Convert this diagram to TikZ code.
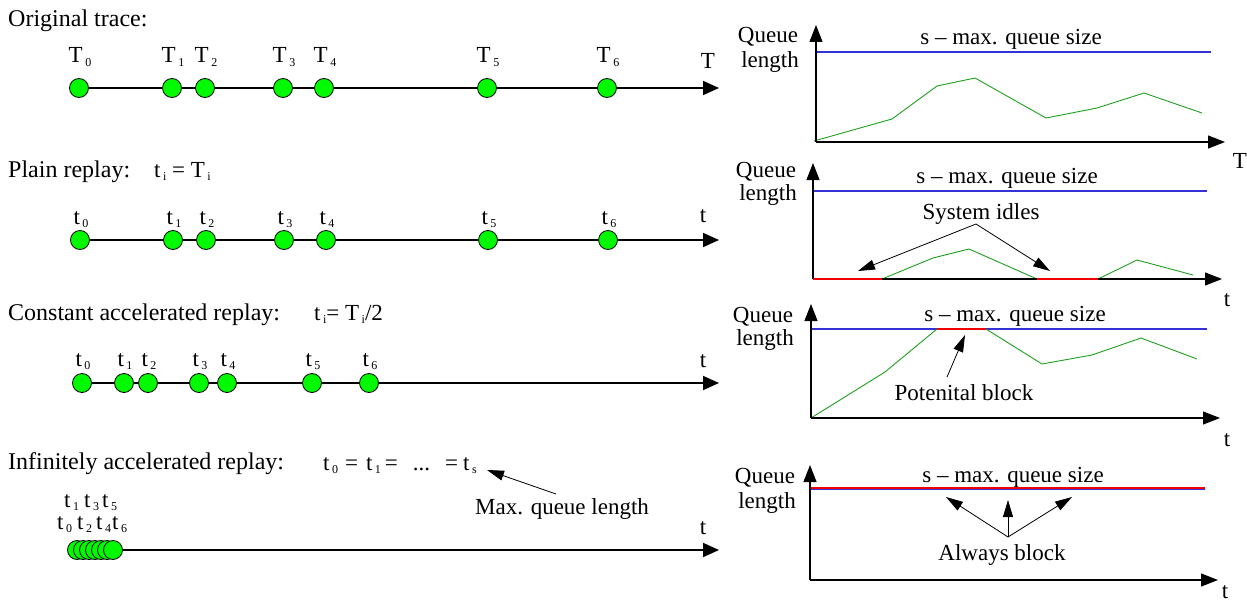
\documentclass[tikz,border=0pt]{standalone}
\usepackage{fontspec}
\setmainfont{Liberation Serif}
\usetikzlibrary{arrows.meta,backgrounds}

\definecolor{dotgreen}{RGB}{0,250,0}
\definecolor{curvegreen}{RGB}{30,160,30}
\definecolor{limitblue}{RGB}{50,50,215}
\definecolor{idlered}{RGB}{240,0,0}

% small lowered index as used in the event labels
\newcommand\lo[1]{\kern2.5pt\raisebox{-3.5pt}{\fontsize{12}{12}\selectfont #1}}

\begin{document}
\begin{tikzpicture}[x=1pt,y=-1pt,
  txt/.style={font=\fontsize{23}{24}\selectfont, inner sep=0pt, anchor=base},
  txtw/.style={txt, anchor=base west},
  head/.style={txtw, font=\fontsize{24}{25}\selectfont},
  ev/.style={circle, draw=black, line width=0.8pt, fill=dotgreen, minimum size=19pt, inner sep=0pt},
  timeline/.style={line width=1.8pt, -{Triangle[length=16pt,width=14pt]}},
  axis/.style={line width=1.1pt, -{Triangle[length=17pt,width=13pt]}},
  limit/.style={limitblue, line width=1.3pt},
  curve/.style={curvegreen, line width=0.9pt},
  block/.style={idlered, line width=2.8pt},
  pointer/.style={line width=0.8pt, -{Triangle[length=17pt,width=10pt]}},
]
\useasboundingbox (0,0) rectangle (1247,602);

% ---------------- left: event time lines ----------------
% original trace
\node[head] (h1) at (8,27) {Original trace:};
\foreach \x [count=\i from 0] in {79,172,205,283,324,487,607} {
  \node[ev] (a\i) at (\x,88) {};
  \node[txt] (al\i) at (\x+1,63) {T\lo{\i}};
}
\coordinate (aend) at (719,88);
\node[txt] (aT) at (708,69) {T};

% plain replay
\node[head] (h2) at (8,177) {Plain replay:};
\node[txtw] (e2) at (154,177) {t\lo{i} = T\lo{i}};
\foreach \x [count=\i from 0] in {80,173,206,284,326,488,608} {
  \node[ev] (b\i) at (\x,240) {};
  \node[txt] (bl\i) at (\x+1,224) {t\lo{\i}};
}
\coordinate (bend) at (719,240);
\node[txt] (bt) at (703,222) {t};

% constant accelerated replay
\node[head] (h3) at (8,320) {Constant accelerated replay:};
\node[txtw] (e3) at (314,320) {t\lo{i}= T\lo{i}/2};
\foreach \x [count=\i from 0] in {82,124,148,199,227,312,369} {
  \node[ev] (c\i) at (\x,383) {};
  \node[txt] (cl\i) at (\x+1,366) {t\lo{\i}};
}
\coordinate (cend) at (719,383);
\node[txt] (ct) at (703,367) {t};

% infinitely accelerated replay
\node[head] (h4) at (8,469) {Infinitely accelerated replay:};
\node[txtw] (e4) at (323,470) {t\lo{0}\hspace{7pt}=\hspace{8pt}t\lo{1}\hspace{4pt}=\hspace{15pt}...\hspace{15pt}=\hspace{5pt}t\lo{s}};
\node[txtw] (mq) at (475,514) {Max. queue length};
\foreach \i in {0,...,6} {
  \node[ev] (d\i) at ({77+6*\i},550) {};
}
\begin{scope}[every node/.append style={font=\fontsize{22}{22}\selectfont}]
\node[txtw] (dl1) at (64,507) {t\lo{1}};
\node[txtw] (dl3) at (84,507) {t\lo{3}};
\node[txtw] (dl5) at (102,507) {t\lo{5}};
\node[txtw] (dl0) at (57,529) {t\lo{0}};
\node[txtw] (dl2) at (77,529) {t\lo{2}};
\node[txtw] (dl4) at (96,529) {t\lo{4}};
\node[txtw] (dl6) at (112,529) {t\lo{6}};
\end{scope}
\coordinate (dend) at (719,550);
\node[txt] (dt) at (703,534) {t};
\coordinate (mqtail) at (556,494);
\coordinate (mqtip) at (487,470);
\draw[pointer] (mqtail) -- (mqtip);

\begin{scope}[on background layer]
  \draw[timeline] (a0.center) -- (aend);
  \draw[timeline] (b0.center) -- (bend);
  \draw[timeline] (c0.center) -- (cend);
  \draw[timeline] (d0.center) -- (dend);
\end{scope}

% ---------------- right: queue length plots ----------------
% plot 1: original trace
\coordinate (o1) at (816,142);
\coordinate (y1) at (816,25);
\coordinate (x1) at (1225,142);
\draw[limit] (816,52) -- (1211,52);
\draw[curve] (814,141) -- (892,119) -- (937,86) -- (975,78) -- (1046,118)
  -- (1097,108) -- (1144,93) -- (1202,113);
\draw[axis] (o1) -- (y1);
\draw[axis] (o1) -- (x1);
\node[txt] (q1) at (768,43) {Queue};
\node[txt] (l1) at (770,67) {length};
\node[txt] (s1) at (1011,45) {s -- max. queue size};
\node[txt] (T1) at (1240,168) {T};

% plot 2: plain replay
\coordinate (o2) at (813,279);
\coordinate (y2) at (813,163);
\coordinate (x2) at (1222,279);
\draw[limit] (813,191) -- (1207,191);
\draw[curve] (882,279) -- (933,258) -- (969,249) -- (1037,279);
\draw[curve] (1098,279) -- (1137,260) -- (1193,275);
\draw[axis] (o2) -- (y2);
\draw[axis] (o2) -- (x2);
\draw[block] (813,279) -- (882,279);
\draw[block] (1037,279) -- (1098,279);
\node[txt] (q2) at (766,177) {Queue};
\node[txt] (l2) at (768,200) {length};
\node[txt] (s2) at (1007,183) {s -- max. queue size};
\node[txt] (si) at (981,219) {System idles};
\coordinate (siapex) at (976,224);
\coordinate (sil) at (858,271);
\coordinate (sir) at (1050,271);
\draw[pointer] (siapex) -- (sil);
\draw[pointer] (siapex) -- (sir);
\node[txt] (t2) at (1227,306) {t};

% plot 3: constant accelerated replay
\coordinate (o3) at (811,418);
\coordinate (y3) at (811,304);
\coordinate (x3) at (1220,418);
\draw[limit] (811,329) -- (1207,329);
\draw[curve] (811,418) -- (885,372) -- (937,329);
\draw[curve] (986,329) -- (1042,364) -- (1092,355) -- (1141,338) -- (1197,359);
\draw[axis] (o3) -- (y3);
\draw[axis] (o3) -- (x3);
\draw[block] (937,329) -- (986,329);
\node[txt] (q3) at (763,322) {Queue};
\node[txt] (l3) at (765,345) {length};
\node[txt] (s3) at (1015,321) {s -- max. queue size};
\node[txt] (pb) at (964,400) {Potenital block};
\coordinate (pbtail) at (947,377);
\coordinate (pbtip) at (965,335);
\draw[pointer] (pbtail) -- (pbtip);
\node[txt] (t3) at (1227,446) {t};

% plot 4: infinitely accelerated replay
\coordinate (o4) at (810,580);
\coordinate (y4) at (810,465);
\coordinate (x4) at (1218,580);
\draw[limit] (810,489.5) -- (1205,489.5);
\draw[idlered, line width=2.6pt] (810,488) -- (1205,488);
\draw[axis] (o4) -- (y4);
\draw[axis] (o4) -- (x4);
\node[txt] (q4) at (765,483) {Queue};
\node[txt] (l4) at (767,508) {length};
\node[txt] (s4) at (1013,482) {s -- max. queue size};
\node[txt] (ab) at (1002,560) {Always block};
\coordinate (abapex) at (1008,537);
\coordinate (abl) at (946,497);
\coordinate (abm) at (1008,500);
\coordinate (abr) at (1072,497);
\draw[pointer] (abapex) -- (abl);
\draw[pointer] (abapex) -- (abm);
\draw[pointer] (abapex) -- (abr);
\node[txt] (t4) at (1225,598) {t};
\end{tikzpicture}
\end{document}
